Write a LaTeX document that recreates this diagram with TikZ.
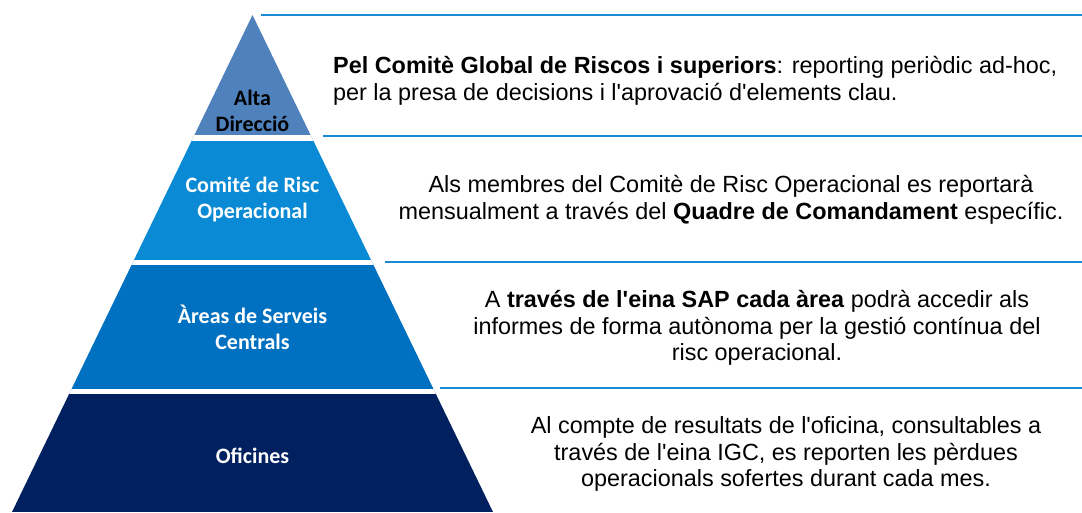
\documentclass[tikz,border=0pt]{standalone}
\usepackage{fontspec}
\setmainfont{Liberation Sans}
\newfontfamily\calfont{Carlito}
\usetikzlibrary{positioning}
\definecolor{altablue}{HTML}{4F81BD}
\definecolor{comiteblue}{HTML}{0A8AD4}
\definecolor{areesblue}{HTML}{0070C0}
\definecolor{oficblue}{HTML}{002060}
\definecolor{ruleblue}{HTML}{1A8AD4}
\newcommand{\ap}{\textquotesingle}
\tikzset{
  tier/.style={font=\calfont\bfseries\fontsize{22}{26}\selectfont, align=center, text=white, inner sep=0pt},
  info/.style={font=\fontsize{23.4}{26.8}\selectfont, align=center, text=black, inner sep=0pt},
  tierrule/.style={ruleblue, line width=2pt}
}
\begin{document}
\begin{tikzpicture}[x=1pt,y=-1pt]
\useasboundingbox (0,0) rectangle (1082,512);
\coordinate (apex) at (252.5,15);
\coordinate (bl) at (12,512);
\coordinate (br) at (493,512);
% pyramid
\begin{scope}
\clip (apex) -- (bl) -- (br) -- cycle;
\fill[altablue] (0,0) rectangle (1082,138);
\fill[comiteblue] (0,138) rectangle (1082,262.5);
\fill[areesblue] (0,262.5) rectangle (1082,391.5);
\fill[oficblue] (0,391.5) rectangle (1082,512);
\draw[white, line width=5.5pt] (0,138) -- (1082,138) (0,262.5) -- (1082,262.5) (0,391.5) -- (1082,391.5);
\end{scope}
% rules on the right
\coordinate (l1) at (261,15);   \coordinate (r1) at (1082,15);
\coordinate (l2) at (323,136);  \coordinate (r2) at (1082,136);
\coordinate (l3) at (385,262);  \coordinate (r3) at (1082,262);
\coordinate (l4) at (440,388);  \coordinate (r4) at (1082,388);
\draw[tierrule] (l1) -- (r1);
\draw[tierrule] (l2) -- (r2);
\draw[tierrule] (l3) -- (r3);
\draw[tierrule] (l4) -- (r4);
% tier labels
\node[tier, text=black] (alta) at (252.5,110.5) {Alta\\Direcció};
\node[tier] (comite) at (252.5,200) {Comité de Risc\\Operacional};
\node[tier] (arees) at (252.5,327.5) {Àreas de Serveis\\Centrals};
\node[tier] (oficines) at (252.5,456) {Oficines};
% descriptions
\node[info, align=left, anchor=west] (pel) at (333,81) {\textbf{Pel Comitè Global de Riscos i superiors}: reporting periòdic ad-hoc,\\per la presa de decisions i l\ap aprovació d\ap elements clau.};
\node[info] (quadre) at (731,200) {Als membres del Comitè de Risc Operacional es reportarà\\mensualment a través del \textbf{Quadre de Comandament} específic.};
\node[info] (sap) at (757,328) {A \textbf{través de l\ap eina SAP cada àrea} podrà accedir als\\informes de forma autònoma per la gestió contínua del\\risc operacional.};
\node[info] (igc) at (786,454) {Al compte de resultats de l\ap oficina, consultables a\\través de l\ap eina IGC, es reporten les pèrdues\\operacionals sofertes durant cada mes.};
\end{tikzpicture}
\end{document}
